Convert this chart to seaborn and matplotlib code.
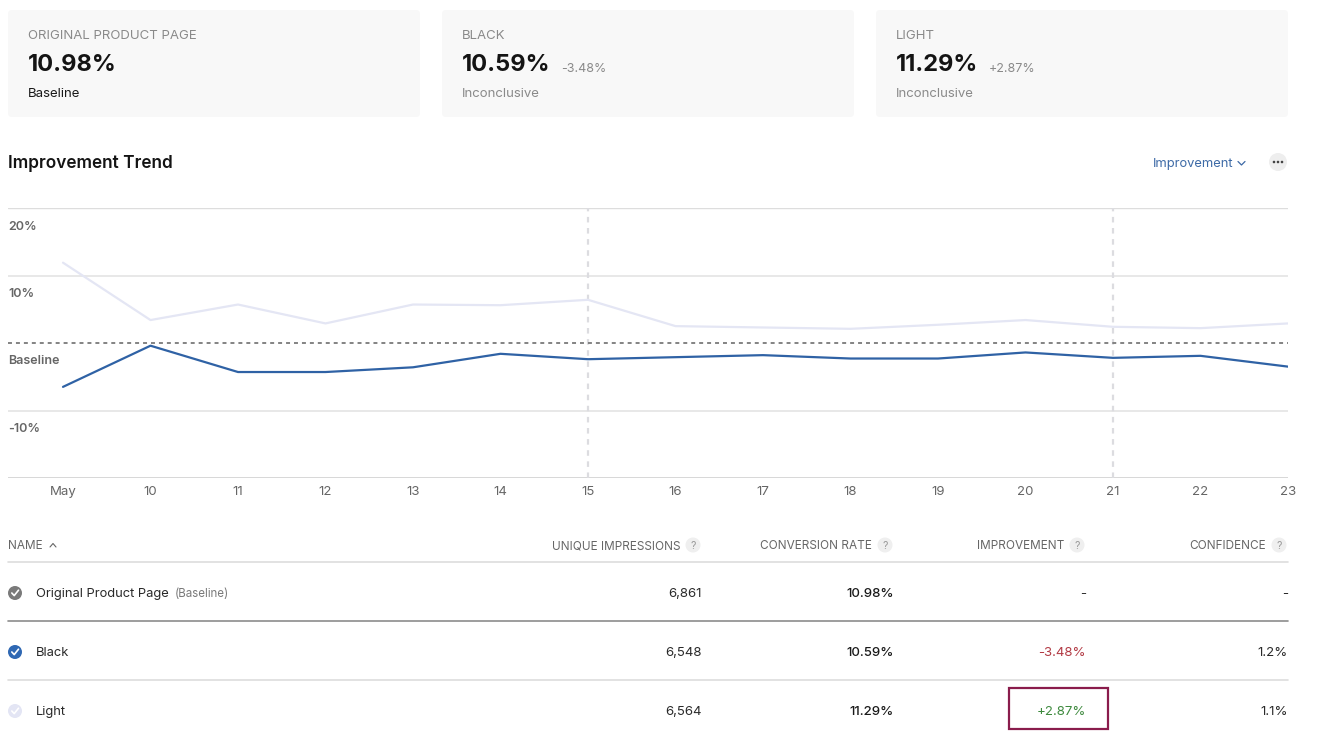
import matplotlib
matplotlib.use("Agg")
import matplotlib.pyplot as plt
import matplotlib.transforms as mtrans
from matplotlib.patches import FancyBboxPatch, Rectangle, Circle
from matplotlib.lines import Line2D
import seaborn as sns
import pandas as pd

# ---------------- data ----------------
day_labels = ["May", "10", "11", "12", "13", "14", "15", "16", "17", "18", "19", "20", "21", "22", "23"]
day_pos = list(range(9, 24))
black_improvement = [-6.5, -0.4, -4.3, -4.3, -3.6, -1.6, -2.4, -2.1, -1.8, -2.3, -2.3, -1.4, -2.2, -1.9, -3.5]
light_improvement = [11.9, 3.4, 5.7, 2.9, 5.7, 5.6, 6.4, 2.5, 2.3, 2.1, 2.7, 3.4, 2.4, 2.2, 2.9]
y_ticks = [20, 10, 0, -10]
y_tick_labels = ["20%", "10%", "Baseline", "-10%"]
marked_days = [15, 21]

card_titles = ["ORIGINAL PRODUCT PAGE", "BLACK", "LIGHT"]
card_values = ["10.98%", "10.59%", "11.29%"]
card_deltas = ["", "-3.48%", "+2.87%"]
card_status = ["Baseline", "Inconclusive", "Inconclusive"]

table_headers = ["UNIQUE IMPRESSIONS", "CONVERSION RATE", "IMPROVEMENT", "CONFIDENCE"]
variant_names = ["Original Product Page", "Black", "Light"]
impressions = ["6,861", "6,548", "6,564"]
conv_rates = ["10.98%", "10.59%", "11.29%"]
improvements = ["-", "-3.48%", "+2.87%"]
confidences = ["-", "1.2%", "1.1%"]

# ---------------- style ----------------
sns.set_style("white")
plt.rcParams["font.family"] = ["Inter", "DejaVu Sans"]

W, H = 1321, 739
fig = plt.figure(figsize=(W / 100, H / 100), dpi=100)
fig.patch.set_facecolor("white")
renderer = fig.canvas.get_renderer()

# overlay axes in pixel coordinates
ov = fig.add_axes([0, 0, 1, 1], zorder=0)
ov.set_xlim(0, W)
ov.set_ylim(H, 0)
ov.axis("off")


def right_edge_px(txt):
    bb = txt.get_window_extent(renderer=renderer)
    return bb.x1  # display pixels == overlay x coordinate (dpi 100, full-figure axes)


# ---------------- cards ----------------
card_x = [8, 442, 876]
card_w = 412
for i in range(3):
    x0 = card_x[i]
    ov.add_patch(FancyBboxPatch((x0, 10), card_w, 107,
                                boxstyle="round,pad=0,rounding_size=4",
                                facecolor="#f8f8f8", edgecolor="none"))
    ov.text(x0 + 20, 36, card_titles[i], fontsize=9.5, color="#8a8a8a", va="center", ha="left")
    t = ov.text(x0 + 20, 65, card_values[i], fontsize=17, fontweight="bold", color="#141414",
                va="center", ha="left")
    if card_deltas[i]:
        xr = right_edge_px(t)
        ov.text(xr + 11, 69, card_deltas[i], fontsize=9, color="#8a8a8a", va="center", ha="left")
    ov.text(x0 + 20, 94, card_status[i], fontsize=9.5,
            color="#1a1a1a" if i == 0 else "#8a8a8a", va="center", ha="left")

# ---------------- header of trend ----------------
ov.text(8, 164, "Improvement Trend", fontsize=12.4, fontweight="semibold", color="#141414",
        va="center", ha="left")
ov.text(1153, 164, "Improvement", fontsize=9.3, color="#3d6aa6", va="center", ha="left")
ov.add_line(Line2D([1238, 1241.5, 1245], [161.5, 165, 161.5], color="#3d6aa6", lw=0.9))
ov.add_patch(Circle((1278, 162), 9, facecolor="#eeeeee", edgecolor="none"))
for dx in (-4, 0, 4):
    ov.add_patch(Circle((1278 + dx, 162), 1.3, facecolor="#444444", edgecolor="none"))

# ---------------- chart ----------------
ax = fig.add_axes([8 / W, 1 - 478 / H, 1280 / W, 270 / H], zorder=1)
ax.patch.set_alpha(0)

df = pd.DataFrame({
    "day": day_pos * 2,
    "improvement": light_improvement + black_improvement,
    "variant": ["Light"] * len(day_pos) + ["Black"] * len(day_pos),
})

for v in (10, -10):
    ax.axhline(v, color="#e6e6e6", lw=1.3, zorder=0)
ax.axhline(20, color="#dddddd", lw=1.0, zorder=0)
ax.axhline(-20, color="#d4d4d4", lw=1.3, zorder=0)
for d in marked_days:
    ax.axvline(d, color="#dcdce0", lw=1.6, dashes=(2.5, 2.5), zorder=0)
ax.axhline(0, color="#7a7a7a", lw=1.3, dashes=(2.2, 2.2), zorder=1)

sns.lineplot(data=df, x="day", y="improvement", hue="variant",
             palette={"Light": "#e4e6f4", "Black": "#2f62a5"},
             hue_order=["Light", "Black"], linewidth=1.6, legend=False, ax=ax, zorder=2)

ax.set_xlim(9 - 55 / 87.5, 23)
ax.set_ylim(-20, 20)
for s in ax.spines.values():
    s.set_visible(False)
ax.set_xlabel("")
ax.set_ylabel("")
ax.set_yticks([])
ax.set_xticks(day_pos)
ax.set_xticklabels(day_labels)
ax.tick_params(axis="x", length=0, pad=5.5, labelsize=9.5, labelcolor="#666666")

blend = mtrans.blended_transform_factory(ax.transAxes, ax.transData)
off = mtrans.offset_copy(blend, fig=fig, x=0, y=-12.5, units="dots")
for v, lab in zip(y_ticks, y_tick_labels):
    ax.text(0, v, lab, transform=off, ha="left", va="top", fontsize=9,
            fontweight="semibold", color="#666666")

# ---------------- table ----------------
col_right = [702, 894, 1086, 1288]
ov.text(8, 546, "NAME", fontsize=8.5, color="#666666", va="center", ha="left")
ov.add_line(Line2D([50, 53, 56], [547, 543.5, 547], color="#666666", lw=0.8))
for hdr, xr in zip(table_headers, col_right):
    ov.add_patch(Circle((xr - 9, 545), 7.5, facecolor="#efefef", edgecolor="none"))
    ov.text(xr - 9, 546, "?", fontsize=7.5, color="#999999", va="center", ha="center")
    ov.text(xr - 22, 546, hdr, fontsize=8.5, color="#666666", va="center", ha="right")

ov.add_line(Line2D([8, 1288], [562, 562], color="#dddddd", lw=1.2))
ov.add_line(Line2D([8, 1288], [621, 621], color="#8c8c8c", lw=1.2))
ov.add_line(Line2D([8, 1288], [680, 680], color="#dddddd", lw=1.2))

row_y = [594, 653, 712]
icon_colors = ["#7a7a7a", "#2f68b3", "#e3e5f4"]
imp_colors = ["#333333", "#b23a44", "#3e8a3e"]
for i in range(3):
    y = row_y[i]
    yc = y - 1
    ov.add_patch(Circle((15, yc), 7, facecolor=icon_colors[i], edgecolor="none"))
    ov.add_line(Line2D([11.8, 14.2, 18.5], [yc, yc + 2.6, yc - 2.8], color="white", lw=1.2,
                       solid_capstyle="round", solid_joinstyle="round"))
    t = ov.text(36, y, variant_names[i], fontsize=9.3, color="#2a2a2a", va="center", ha="left")
    if i == 0:
        xr = right_edge_px(t)
        ov.text(xr + 6, y, "(Baseline)", fontsize=8.3, color="#7a7a7a", va="center", ha="left")
    ov.text(col_right[0], y, impressions[i], fontsize=9.5, color="#2a2a2a", va="center", ha="right")
    ov.text(col_right[1], y, conv_rates[i], fontsize=9.5, fontweight="medium", color="#1a1a1a",
            va="center", ha="right")
    ov.text(col_right[2], y, improvements[i], fontsize=9.5, color=imp_colors[i], va="center", ha="right")
    ov.text(col_right[3], y, confidences[i], fontsize=9.5, color="#2a2a2a", va="center", ha="right")

ov.add_patch(Rectangle((1009, 688), 99, 41, facecolor="none", edgecolor="#8a1c4c", lw=1.6))

fig.savefig("out.png", dpi=100, facecolor="white")
